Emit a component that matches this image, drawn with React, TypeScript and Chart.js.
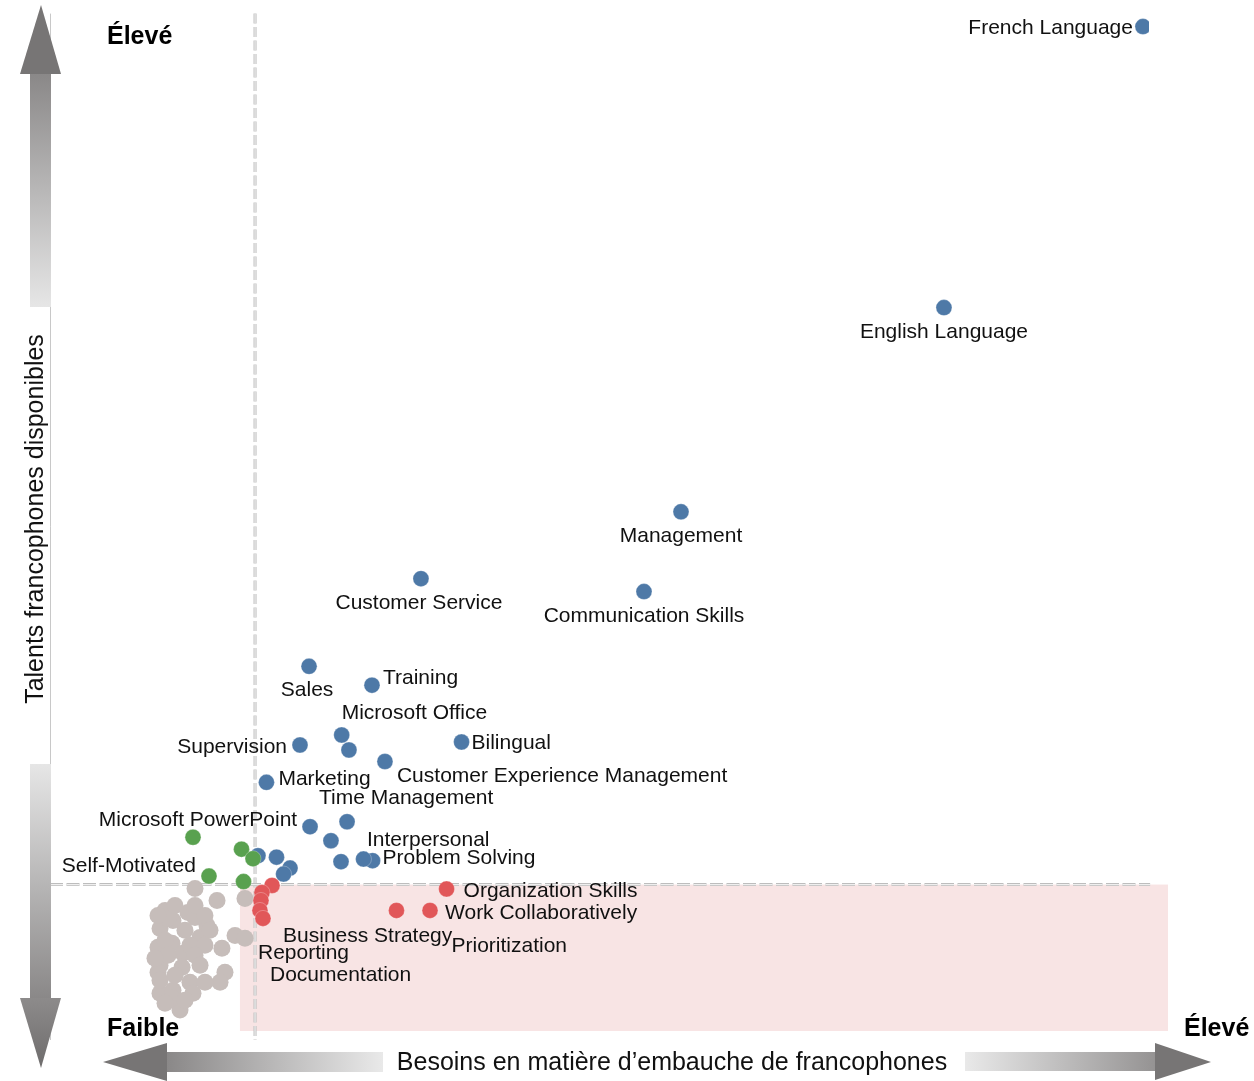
import React, { useEffect, useRef } from "react";
import { Chart, registerables } from "chart.js";

Chart.register(...registerables);

// ---------- DATA ----------
const blueNames = [
  "French Language", "English Language", "Management", "Customer Service", "Communication Skills",
  "Sales", "Training", "Microsoft Office", "", "Supervision", "Bilingual",
  "Customer Experience Management", "Marketing", "Time Management", "", "Interpersonal", "",
  "Problem Solving", "", "", "", "", "",
];
const blueX = [97.76, 79.96, 56.44, 33.18, 53.13, 23.17, 28.8, 26.09, 26.74, 22.36, 36.81, 29.96, 19.36, 23.26, 26.57, 25.13, 26.03, 28.85, 28.04, 20.26, 18.6, 21.47, 20.89];
const blueY = [98.26, 71.01, 51.21, 44.73, 43.48, 36.23, 34.4, 29.57, 28.12, 28.6, 28.89, 27.0, 24.98, 20.68, 21.16, 19.32, 17.29, 17.39, 17.54, 17.73, 17.87, 16.67, 16.09];

const greenNames = ["Microsoft PowerPoint", "", "", "Self-Motivated", ""];
const greenX = [12.79, 17.13, 18.16, 14.22, 17.31];
const greenY = [19.66, 18.5, 17.58, 15.89, 15.36];

const redNames = ["Business Strategy", "", "", "Documentation", "Reporting", "Prioritization", "Work Collaboratively", "Organization Skills"];
const redX = [19.86, 18.96, 18.87, 18.78, 19.05, 30.99, 33.99, 35.47];
const redY = [14.98, 14.3, 13.53, 12.56, 11.79, 12.56, 12.56, 14.64];

const grayX = [
  12.97, 14.94, 17.44, 10.29, 12.34, 11.0, 14.04, 9.84, 12.07, 13.42, 10.91, 16.55, 17.44, 15.38, 9.66,
  11.9, 9.84, 11.81, 15.65, 15.21, 9.66, 12.52, 9.84, 11.0, 12.79, 11.63, 10.91, 10.55, 12.97,
  9.66, 11.18, 12.97, 13.86, 14.31, 10.29, 12.52, 13.86, 10.55, 12.97, 9.84, 11.18, 13.42, 12.07, 10.29, 13.86, 9.39,
];
const grayY = [
  14.69, 13.53, 13.72, 12.56, 12.37, 11.59, 11.11, 10.82, 10.63, 9.95, 9.37, 10.14, 9.86, 8.89, 8.99,
  8.41, 7.25, 7.05, 6.57, 5.6, 6.57, 5.6, 4.54, 4.83, 4.54, 2.9, 4.06, 11.79, 11.88,
  12.08, 13.04, 13.04, 12.08, 10.63, 9.66, 9.18, 9.18, 8.21, 8.21, 5.8, 6.28, 7.25, 3.86, 3.57, 5.6, 7.92,
];

const thresholdX = 18.34; // need threshold
const thresholdY = 15.07; // talent threshold
const focusX = [16.99, 100];
const focusY = [0.87, 15.07];

const yTitle = "Talents francophones disponibles";
const xTitle = "Besoins en matière d\u2019embauche de francophones";
const highLabel = "Élevé";
const lowLabel = "Faible";

// ---------- STYLE ----------
const FONT = '"Liberation Sans", Arial, sans-serif';
const LABEL_LAYOUT: Record<string, [number, number, CanvasTextAlign]> = {
  "French Language": [-10, 2, "right"],
  "English Language": [0, 25, "center"],
  "Management": [0, 24, "center"],
  "Customer Service": [-2, 25, "center"],
  "Communication Skills": [0, 25, "center"],
  "Sales": [-2, 24, "center"],
  "Training": [11, -7, "left"],
  "Microsoft Office": [0, -22, "left"],
  "Supervision": [-13, 2, "right"],
  "Bilingual": [10, 1, "left"],
  "Customer Experience Management": [12, 15, "left"],
  "Marketing": [12, -3, "left"],
  "Time Management": [9, -29, "left"],
  "Interpersonal": [36, -1, "left"],
  "Problem Solving": [10, -2, "left"],
  "Microsoft PowerPoint": [5, -17, "center"],
  "Self-Motivated": [-13, -10, "right"],
  "Business Strategy": [11, 51, "left"],
  "Documentation": [10, 65, "left"],
  "Reporting": [-5, 35, "left"],
  "Prioritization": [55, 36, "left"],
  "Work Collaboratively": [15, 3, "left"],
  "Organization Skills": [17, 2, "left"],
};

function toPts(xs: number[], ys: number[]) {
  return xs.map((x, i) => ({ x, y: ys[i] }));
}

function dashedLine(ctx: CanvasRenderingContext2D, x1: number, y1: number, x2: number, y2: number, dash: number[]) {
  ctx.save();
  ctx.setLineDash(dash);
  ctx.lineCap = "butt";
  ctx.beginPath();
  ctx.moveTo(x1, y1);
  ctx.lineTo(x2, y2);
  ctx.strokeStyle = "#bdbdbd";
  ctx.lineWidth = 3;
  ctx.stroke();
  ctx.beginPath();
  ctx.moveTo(x1, y1);
  ctx.lineTo(x2, y2);
  ctx.strokeStyle = "#efefef";
  ctx.lineWidth = 1.2;
  ctx.stroke();
  ctx.restore();
}

const decorPlugin = {
  id: "decor",
  beforeDatasetsDraw(chart: any) {
    const { ctx, chartArea, scales } = chart;
    const xs = scales.x, ys = scales.y;
    ctx.save();
    const rx1 = xs.getPixelForValue(focusX[0]);
    const rx2 = xs.getPixelForValue(focusX[1]);
    const ry1 = ys.getPixelForValue(focusY[1]);
    const ry2 = ys.getPixelForValue(focusY[0]);
    ctx.fillStyle = "rgb(248,228,228)";
    ctx.fillRect(rx1, ry1, rx2 - rx1, ry2 - ry1);
    ctx.strokeStyle = "#c8c8c8";
    ctx.lineWidth = 1;
    ctx.beginPath();
    ctx.moveTo(chartArea.left + 0.5, chartArea.top + 5);
    ctx.lineTo(chartArea.left + 0.5, chartArea.bottom);
    ctx.stroke();
    const vx = xs.getPixelForValue(thresholdX);
    dashedLine(ctx, vx, chartArea.top + 5, vx, chartArea.bottom, [10, 3.5]);
    const hy = ys.getPixelForValue(thresholdY);
    dashedLine(ctx, chartArea.left, hy, xs.getPixelForValue(98.4), hy, [13, 3.5]);
    ctx.restore();
  },
  afterDatasetsDraw(chart: any) {
    const { ctx } = chart;
    ctx.save();
    ctx.font = `21px ${FONT}`;
    ctx.fillStyle = "#111111";
    ctx.textBaseline = "middle";
    chart.data.datasets.forEach((ds: any, di: number) => {
      const names: string[] = ds.names || [];
      const meta = chart.getDatasetMeta(di);
      meta.data.forEach((el: any, i: number) => {
        const n = names[i];
        if (!n) return;
        const lay = LABEL_LAYOUT[n] || [10, 0, "left"];
        ctx.textAlign = lay[2];
        ctx.fillText(n, el.x + lay[0], el.y + lay[1]);
      });
    });
    ctx.restore();
  },
  afterDraw(chart: any) {
    const ctx: CanvasRenderingContext2D = chart.ctx;
    ctx.save();
    const dark = "#777575";
    const light = "#e6e6e6";
    ctx.fillStyle = dark;
    ctx.beginPath();
    ctx.moveTo(41, 5);
    ctx.lineTo(61, 74);
    ctx.lineTo(20, 74);
    ctx.closePath();
    ctx.fill();
    let g = ctx.createLinearGradient(0, 74, 0, 307);
    g.addColorStop(0, "#8a8888");
    g.addColorStop(1, light);
    ctx.fillStyle = g;
    ctx.fillRect(30, 74, 21, 233);
    g = ctx.createLinearGradient(0, 764, 0, 998);
    g.addColorStop(0, light);
    g.addColorStop(1, "#8a8888");
    ctx.fillStyle = g;
    ctx.fillRect(30, 764, 21, 234);
    g = ctx.createLinearGradient(0, 998, 0, 1068);
    g.addColorStop(0, "#8d8b8b");
    g.addColorStop(1, "#6e6c6c");
    ctx.fillStyle = g;
    ctx.beginPath();
    ctx.moveTo(20, 998);
    ctx.lineTo(61, 998);
    ctx.lineTo(41, 1068);
    ctx.closePath();
    ctx.fill();
    ctx.fillStyle = dark;
    ctx.beginPath();
    ctx.moveTo(103, 1062);
    ctx.lineTo(167, 1043);
    ctx.lineTo(167, 1081);
    ctx.closePath();
    ctx.fill();
    g = ctx.createLinearGradient(167, 0, 383, 0);
    g.addColorStop(0, "#8a8888");
    g.addColorStop(1, "#e9e9e9");
    ctx.fillStyle = g;
    ctx.fillRect(167, 1052, 216, 20);
    g = ctx.createLinearGradient(965, 0, 1155, 0);
    g.addColorStop(0, "#e9e9e9");
    g.addColorStop(1, "#959393");
    ctx.fillStyle = g;
    ctx.fillRect(965, 1052, 190, 19);
    ctx.fillStyle = dark;
    ctx.beginPath();
    ctx.moveTo(1155, 1043);
    ctx.lineTo(1211, 1062);
    ctx.lineTo(1155, 1080);
    ctx.closePath();
    ctx.fill();

    ctx.fillStyle = "#111111";
    ctx.textBaseline = "middle";
    ctx.font = `25px ${FONT}`;
    ctx.textAlign = "center";
    ctx.fillText(xTitle, 672, 1063);
    ctx.save();
    ctx.translate(36, 519);
    ctx.rotate(-Math.PI / 2);
    ctx.fillText(yTitle, 0, 0);
    ctx.restore();
    ctx.font = `bold 25px ${FONT}`;
    ctx.textAlign = "left";
    ctx.fillStyle = "#000000";
    ctx.fillText(highLabel, 107, 37);
    ctx.fillText(lowLabel, 107, 1029);
    ctx.fillText(highLabel, 1184, 1029);
    ctx.restore();
  },
};

export default function App() {
  const ref = useRef<HTMLCanvasElement | null>(null);
  useEffect(() => {
    if (!ref.current) return;
    const pt = { pointRadius: 8, pointHoverRadius: 8, borderWidth: 0.6, borderColor: "rgba(255,255,255,0.45)" };
    const chart = new Chart(ref.current, {
      type: "scatter",
      data: {
        datasets: [
          { label: "red", data: toPts(redX, redY), backgroundColor: "#e15759", order: 0, names: redNames, ...pt } as any,
          { label: "green", data: toPts(greenX, greenY), backgroundColor: "#59a14f", order: 1, names: greenNames, ...pt } as any,
          { label: "blue", data: toPts(blueX, blueY), backgroundColor: "#4e79a7", order: 2, names: blueNames, clip: { left: 20, top: 20, right: -19, bottom: 20 }, ...pt } as any,
          { label: "gray", data: toPts(grayX, grayY), backgroundColor: "#c6bdba", order: 3, ...pt, pointRadius: 8.5, pointHoverRadius: 8.5, borderWidth: 0 } as any,
        ],
      },
      options: {
        responsive: false,
        animation: false,
        layout: { padding: { left: 50, right: 86, top: 5, bottom: 41 } },
        scales: {
          x: { type: "linear", min: 0, max: 100, display: false },
          y: { type: "linear", min: 0, max: 100, display: false },
        },
        plugins: { legend: { display: false }, tooltip: { enabled: false } },
      },
      plugins: [decorPlugin],
    });
    return () => chart.destroy();
  }, []);
  return (
    <div style={{ position: "absolute", left: 0, top: 0, width: 1254, height: 1081, background: "#fff" }}>
      <canvas ref={ref} width={1254} height={1081} style={{ display: "block" }} />
    </div>
  );
}
